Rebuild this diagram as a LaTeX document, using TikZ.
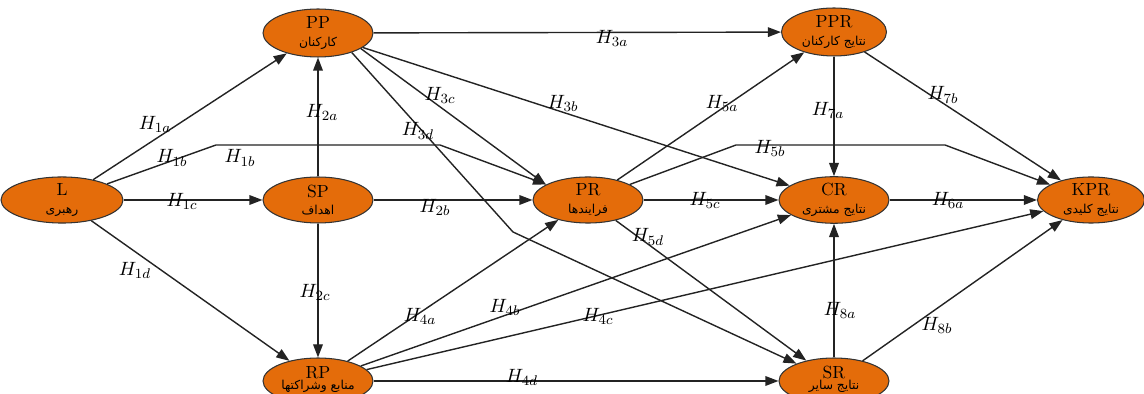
\documentclass[tikz,border=0pt]{standalone}
\usepackage{fontspec}
\usetikzlibrary{shapes.geometric,arrows.meta}
\newfontfamily\fa[Script=Arabic]{DejaVu Sans}
\TeXXeTstate=1
\definecolor{nodeorange}{RGB}{228,108,10}
\definecolor{edgegray}{RGB}{35,35,35}
\newcommand\fatext[1]{{\fa\fontsize{7}{8}\selectfont\beginR #1\endR}}
\begin{document}
\begin{tikzpicture}[x=0.02cm,y=-0.02cm,
  efqm/.style={ellipse, draw=black!80, line width=0.6pt, fill=nodeorange,
    minimum width=2.2cm, minimum height=0.92cm, inner sep=0pt, align=center,
    font=\fontsize{10}{10}\selectfont},
  link/.style={draw=edgegray, line width=0.8pt, -{Triangle[length=7.5pt,width=5.5pt]}},
  hlabel/.style={font=\fontsize{11}{13}\selectfont, inner sep=1pt}]
\useasboundingbox (0,0) rectangle (1144,394);
\clip (0,0) rectangle (1144,394);
% nodes
\node[efqm, minimum width=2.44cm] (L) at (62,200) {L\\\fatext{رهبری}};
\node[efqm, minimum height=0.96cm] (PP) at (318,33) {PP\\\fatext{کارکنان}};
\node[efqm] (SP) at (318,200) {SP\\\fatext{اهداف}};
\node[efqm] (RP) at (318,381) {};
\node[anchor=base, inner sep=0pt, font=\fontsize{10}{10}\selectfont] (RPt) at (318,379) {RP};
\node[anchor=base, inner sep=0pt] (RPf) at (318,390) {\fatext{منابع وشراکتها}};
\node[efqm] (PR) at (588,200) {PR\\\fatext{فرایندها}};
\node[efqm, minimum width=2.1cm, minimum height=0.96cm] (PPR) at (834,32) {PPR\\\fatext{نتایج کارکنان}};
\node[efqm] (CR) at (834,200) {CR\\\fatext{نتایج مشتری}};
\node[efqm] (SR) at (834,381) {};
\node[anchor=base, inner sep=0pt, font=\fontsize{10}{10}\selectfont] (SRt) at (834,379) {SR};
\node[anchor=base, inner sep=0pt] (SRf) at (834,390) {\fatext{نتایج سایر}};
\node[efqm, minimum width=2.14cm] (KPR) at (1091,200) {KPR\\\fatext{نتایج کلیدی}};
% bend points
\coordinate (b1a) at (216,145);
\coordinate (b1b) at (440,145);
\coordinate (b3) at (513,232);
\coordinate (b5a) at (736,145);
\coordinate (b5b) at (945,145);
% connectors
\draw[link] (L) -- (PP);
\draw[link] (L) -- (b1a) -- (b1b) -- (PR);
\draw[link] (L) -- (SP);
\draw[link] (L) -- (RP);
\draw[link] (SP) -- (PP);
\draw[link] (SP) -- (PR);
\draw[link] (SP) -- (RP);
\draw[link] (PP) -- (PPR);
\draw[link] (PP) -- (CR);
\draw[link] (PP.-20) -- (PR.160);
\draw[link] (PP.-30) -- (b3) -- (SR);
\draw[link] (RP) -- (PR);
\draw[link] (RP) -- (CR);
\draw[link] (RP) -- (KPR);
\draw[link] (RP) -- (SR);
\draw[link] (PR) -- (PPR);
\draw[link] (PR) -- (b5a) -- (b5b) -- (KPR);
\draw[link] (PR) -- (CR);
\draw[link] (PR) -- (SR);
\draw[link] (CR) -- (KPR);
\draw[link] (PPR) -- (CR);
\draw[link] (PPR) -- (KPR);
\draw[link] (SR) -- (CR);
\draw[link] (SR) -- (KPR);
% labels
\node[hlabel] (l1a) at (155,124) {$H_{1a}$};
\node[hlabel] (l1b1) at (172,158) {$H_{1b}$};
\node[hlabel] (l1b2) at (240,158) {$H_{1b}$};
\node[hlabel] (l1c) at (182,201) {$H_{1c}$};
\node[hlabel] (l1d) at (135,270) {$H_{1d}$};
\node[hlabel] (l2a) at (322,112) {$H_{2a}$};
\node[hlabel] (l2b) at (435,207) {$H_{2b}$};
\node[hlabel] (l2c) at (315,292) {$H_{2c}$};
\node[hlabel] (l3a) at (612,38) {$H_{3a}$};
\node[hlabel] (l3b) at (563,103) {$H_{3b}$};
\node[hlabel] (l3c) at (440,95) {$H_{3c}$};
\node[hlabel] (l3d) at (418,131) {$H_{3d}$};
\node[hlabel] (l4a) at (420,316) {$H_{4a}$};
\node[hlabel] (l4b) at (505,307) {$H_{4b}$};
\node[hlabel] (l4c) at (598,316) {$H_{4c}$};
\node[hlabel] (l4d) at (522,377) {$H_{4d}$};
\node[hlabel] (l5a) at (722,103) {$H_{5a}$};
\node[hlabel] (l5b) at (770,148) {$H_{5b}$};
\node[hlabel] (l5c) at (705,200) {$H_{5c}$};
\node[hlabel] (l5d) at (648,237) {$H_{5d}$};
\node[hlabel] (l6a) at (948,200) {$H_{6a}$};
\node[hlabel] (l7a) at (828,110) {$H_{7a}$};
\node[hlabel] (l7b) at (943,95) {$H_{7b}$};
\node[hlabel] (l8a) at (840,310) {$H_{8a}$};
\node[hlabel] (l8b) at (937,325) {$H_{8b}$};
\end{tikzpicture}
\end{document}
